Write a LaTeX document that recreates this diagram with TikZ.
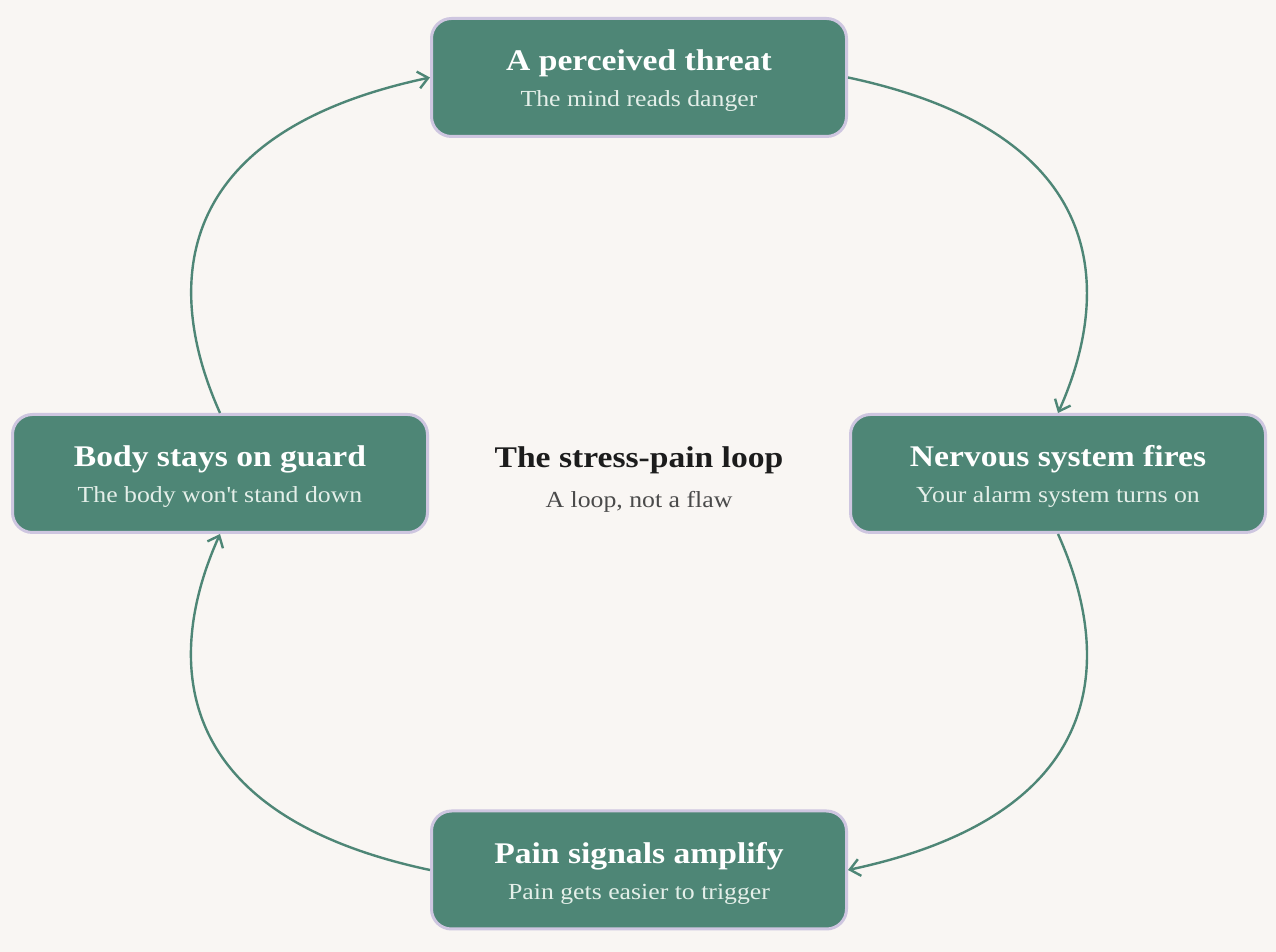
\documentclass[tikz,border=0pt]{standalone}
\usepackage{fontspec}
\setmainfont{Liberation Serif}[FakeStretch=1.12]
\usetikzlibrary{arrows.meta}
\definecolor{sage}{HTML}{4E8676}
\definecolor{lilac}{HTML}{CEC6E0}
\definecolor{paper}{HTML}{F9F6F3}
\definecolor{mint}{HTML}{E4EFE9}
\definecolor{ink}{HTML}{1C1C1C}
\definecolor{softink}{HTML}{4A4A4A}
\newcommand{\cardtitle}[1]{{\color{white}\bfseries\fontsize{30}{36}\selectfont\rule{0pt}{27pt}#1}}
\begin{document}
\begin{tikzpicture}[x=1pt,y=1pt,
    card/.style={draw=lilac, line width=3pt, fill=sage, rounded corners=20pt,
      minimum width=415pt, minimum height=118pt, align=center, text=mint,
      font=\fontsize{23}{36}\selectfont},
    hub/.style={align=center, text=softink, font=\fontsize{23}{40}\selectfont},
    link/.style={draw=sage, line width=2.4pt, -{Straight Barb[length=10pt,width=17pt]}}]
  \fill[paper] (0,0) rectangle (1276,952);
  \useasboundingbox (0,0) rectangle (1276,952);
      \draw
        (639,874.5) node[card] (threat){\cardtitle{A perceived threat}\\The mind reads danger}
        (1058,478.5) node[card] (fires){\cardtitle{Nervous system fires}\\Your alarm system turns on}
        (639,82) node[card] (amplify){\cardtitle{Pain signals amplify}\\Pain gets easier to trigger}
        (220,478.5) node[card] (guard){\cardtitle{Body stays on guard}\\The body won\textquotesingle t stand down}
        (639,475) node[hub] (loop){{\color{ink}\bfseries\fontsize{30}{40}\selectfont\rule{0pt}{25pt}The stress-pain loop}\\A loop, not a flaw};
      \begin{scope}[link]
        \draw (threat.east) to[out=-12, in=66, out looseness=2.1, in looseness=0.4] (fires.north);
        \draw (fires.south) to[out=-66, in=12, out looseness=0.4, in looseness=2.1] (amplify.east);
        \draw (amplify.west) to[out=168, in=-114, out looseness=2.1, in looseness=0.4] (guard.south);
        \draw (guard.north) to[out=114, in=-168, out looseness=0.4, in looseness=2.1] (threat.west);
      \end{scope}
    \end{tikzpicture}
\end{document}
